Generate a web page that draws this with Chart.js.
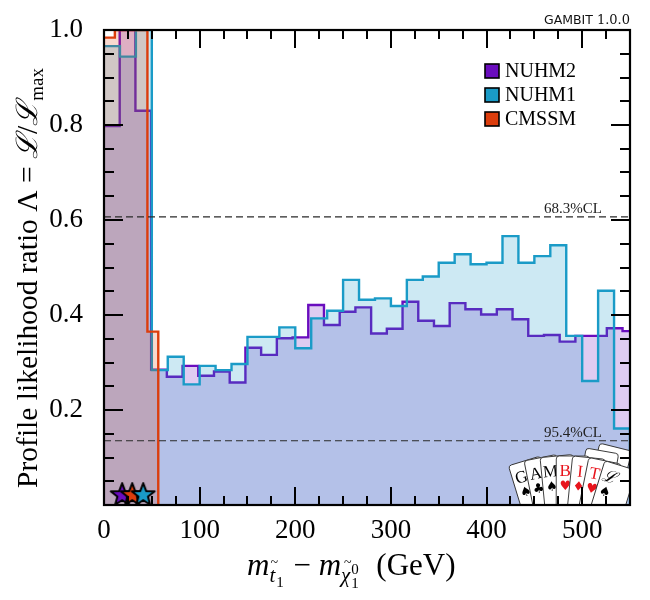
<!DOCTYPE html>
<html>
<head>
<meta charset="utf-8">
<title>GAMBIT stop - neutralino mass difference</title>
<script src="https://cdn.jsdelivr.net/npm/chart.js@4.4.0/dist/chart.umd.min.js"></script>
<style>
    html, body { margin: 0; padding: 0; background: #fff; }
    #wrap { width: 650px; height: 600px; }
</style>
</head>
<body>
<div id="wrap"><canvas id="chart" width="650" height="600"></canvas></div>
<script>
/**
 * 1D profile likelihood: m(stop1) - m(neutralino1), three models
 */

// Histogram bins (GeV) and profile likelihood ratio per bin
const NUHM2_BIN_WIDTH = 16.43;
const NUHM2_VALUES = [0.798, 1.0, 0.83, 0.285, 0.27, 0.293, 0.272, 0.281, 0.258, 0.331,
    0.316, 0.351, 0.353, 0.421, 0.379, 0.407, 0.416, 0.361, 0.371, 0.428,
    0.388, 0.377, 0.425, 0.412, 0.401, 0.412, 0.391, 0.356, 0.358, 0.344,
    0.356, 0.356, 0.372, 0.366];

const NUHM1_BIN_WIDTH = 550 / 33;
const NUHM1_VALUES = [0.966, 0.944, 1.0, 0.284, 0.312, 0.254, 0.293, 0.284, 0.297, 0.354,
    0.354, 0.374, 0.33, 0.393, 0.409, 0.474, 0.432, 0.435, 0.419, 0.474,
    0.481, 0.51, 0.528, 0.507, 0.51, 0.566, 0.51, 0.524, 0.547, 0.356,
    0.261, 0.451, 0.161];

const CMSSM_BIN_WIDTH = 11.35;
const CMSSM_VALUES = [0.984, 1.0, 1.0, 1.0, 0.365];

// Best fit points (stars at the bottom)
const BEST_FIT_MODELS = ['NUHM2', 'CMSSM', 'NUHM1'];
const BEST_FIT_X = [19, 29.5, 41];
const BEST_FIT_Y = [0.023, 0.023, 0.023];

// Confidence level lines
const CL_LEVELS = [0.6065, 0.1353];
const CL_LABELS = ['68.3%CL', '95.4%CL'];

// Axis ticks
const X_TICKS = [0, 100, 200, 300, 400, 500];
const Y_TICKS = [0.2, 0.4, 0.6, 0.8, 1.0];

// Logo cards
const CARD_LETTERS = ['G', 'A', 'M', 'B', 'I', 'T', '\u2112'];
const CARD_SUITS = ['\u2660', '\u2663', '\u2660', '\u2665', '\u2666', '\u2665', '\u2660'];

const X_MAX = 550;
const SERIF = '"Liberation Serif", "DejaVu Serif", serif';

const COLORS = {
    NUHM2: '#6a0dbe',
    NUHM1: '#1a9bc7',
    CMSSM: '#dc3d0c'
};
const FILLS = {
    NUHM2: 'rgba(106, 13, 190, 0.21)',
    NUHM1: 'rgba(26, 155, 199, 0.22)',
    CMSSM: 'rgba(220, 61, 12, 0.2)'
};

/**
 * Turn bin values into points for a stepped line that closes at zero
 */
function stepPoints(values, width) {
    const pts = values.map((v, i) => ({ x: i * width, y: v }));
    const end = values.length * width;
    pts.push({ x: end, y: values[values.length - 1] }, { x: end, y: 0 });
    return pts;
}

/**
 * Filled five point star, used as a point style
 */
function makeStar(color) {
    const c = document.createElement('canvas');
    c.width = 28; c.height = 28;
    const g = c.getContext('2d');
    g.beginPath();
    for (let i = 0; i < 10; i++) {
        const r = i % 2 === 0 ? 12 : 5;
        const a = -Math.PI / 2 + i * Math.PI / 5;
        g.lineTo(14 + r * Math.cos(a), 15 + r * Math.sin(a));
    }
    g.closePath();
    g.fillStyle = color;
    g.fill();
    g.lineWidth = 2;
    g.lineJoin = 'round';
    g.strokeStyle = '#000';
    g.stroke();
    return c;
}

function histDataset(label, values, width, order) {
    return {
        label: label,
        data: stepPoints(values, width),
        stepped: 'before',
        borderColor: COLORS[label],
        backgroundColor: FILLS[label],
        borderWidth: 2.4,
        fill: 'origin',
        pointRadius: 0,
        order: order
    };
}

const datasets = [
    histDataset('NUHM2', NUHM2_VALUES, NUHM2_BIN_WIDTH, 5),
    histDataset('NUHM1', NUHM1_VALUES, NUHM1_BIN_WIDTH, 4),
    histDataset('CMSSM', CMSSM_VALUES, CMSSM_BIN_WIDTH, 3)
];

CL_LEVELS.forEach((lvl, i) => {
    datasets.push({
        label: CL_LABELS[i],
        data: [{ x: 0, y: lvl }, { x: X_MAX, y: lvl }],
        borderColor: '#2a2a2a',
        borderWidth: 1.2,
        borderDash: [7, 4],
        pointRadius: 0,
        fill: false,
        order: 2
    });
});

BEST_FIT_MODELS.forEach((m, i) => {
    datasets.push({
        label: m + ' best fit',
        data: [{ x: BEST_FIT_X[i], y: BEST_FIT_Y[i] }],
        showLine: false,
        pointStyle: makeStar(COLORS[m]),
        pointRadius: 12,
        order: 1 - i
    });
});

/**
 * Draw a piece of text, return the x after it
 */
function piece(ctx, text, x, y, font) {
    ctx.font = font;
    ctx.fillText(text, x, y);
    return x + ctx.measureText(text).width;
}

function drawXTitle(ctx) {
    const it = 'italic 31px ' + SERIF;
    const up = '31px ' + SERIF;
    const subIt = 'italic 21px ' + SERIF;
    const sub = '15px ' + SERIF;
    const y = 575;
    ctx.fillStyle = '#000';
    ctx.textAlign = 'left';
    ctx.textBaseline = 'alphabetic';
    let x = 247;
    x = piece(ctx, 'm', x, y, it);
    const tx = x;
    x = piece(ctx, 't', x, y + 7, subIt);
    ctx.font = '14px ' + SERIF;
    ctx.fillText('~', tx + 1, y - 8);
    x = piece(ctx, '1', x + 1, y + 12, sub);
    x = piece(ctx, ' \u2212 ', x + 2, y, up);
    x = piece(ctx, 'm', x, y, it);
    const cx = x;
    x = piece(ctx, '\u03c7', x, y + 7, subIt);
    ctx.font = '14px ' + SERIF;
    ctx.fillText('~', cx + 3, y - 8);
    piece(ctx, '0', x + 1, y - 1, sub);
    x = piece(ctx, '1', x + 1, y + 13, sub);
    piece(ctx, '  (GeV)', x + 2, y, up);
}

function drawYTitle(ctx) {
    const up = '29.5px ' + SERIF;
    const it = 'italic 29.5px ' + SERIF;
    const sub = '19px ' + SERIF;
    const parts = [
        ['Profile likelihood ratio ', up, 0],
        ['\u039b = ', up, 0],
        ['\u2112', it, 0],
        ['/', up, 0],
        ['\u2112', it, 0],
        ['max', sub, 6]
    ];
    let total = 0;
    parts.forEach(p => { ctx.font = p[1]; total += ctx.measureText(p[0]).width; });
    ctx.save();
    ctx.translate(37, 278);
    ctx.rotate(-Math.PI / 2);
    ctx.fillStyle = '#000';
    ctx.textAlign = 'left';
    ctx.textBaseline = 'alphabetic';
    let x = -total / 2;
    parts.forEach(p => { x = piece(ctx, p[0], x, p[2], p[1]); });
    ctx.restore();
}

function drawCards(ctx, area) {
    ctx.save();
    ctx.beginPath();
    ctx.rect(area.left, area.top, area.width, area.height);
    ctx.clip();
    const px = 565, py = 620, R = 150;
    const card = (ang, r) => {
        ctx.rotate(ang * Math.PI / 180);
        ctx.beginPath();
        ctx.roundRect(-9, -r - 14, 33, 62, 3);
        ctx.fillStyle = '#fff';
        ctx.fill();
        ctx.lineWidth = 0.9;
        ctx.strokeStyle = '#333';
        ctx.stroke();
    };
    // blank cards at the back of the fan
    [[14, R + 16], [10, R + 9]].forEach(c => {
        ctx.save(); ctx.translate(px, py); card(c[0], c[1]); ctx.restore();
    });
    CARD_LETTERS.forEach((ch, i) => {
        const ang = -17 + i * 5.7;
        const red = ch === 'B' || ch === 'I' || ch === 'T';
        ctx.save();
        ctx.translate(px, py);
        card(ang, R);
        ctx.fillStyle = red ? '#e8141c' : '#000';
        ctx.textAlign = 'center';
        ctx.textBaseline = 'alphabetic';
        ctx.font = (ch === '\u2112' ? 'italic ' : '') + '17px ' + SERIF;
        ctx.fillText(ch, 0, -R + 6);
        ctx.font = '13px "DejaVu Sans", sans-serif';
        ctx.fillText(CARD_SUITS[i], 0, -R + 20);
        ctx.restore();
    });
    ctx.restore();
}

function drawTicks(ctx, area, x, y) {
    ctx.save();
    ctx.strokeStyle = '#000';
    ctx.lineWidth = 2;
    ctx.beginPath();
    for (let v = 0; v <= X_MAX; v += 25) {
        const p = Math.round(x.getPixelForValue(v));
        const len = v % 100 === 0 ? 18 : 9;
        ctx.moveTo(p, area.bottom); ctx.lineTo(p, area.bottom - len);
        ctx.moveTo(p, area.top); ctx.lineTo(p, area.top + len);
    }
    for (let i = 1; i < 20; i++) {
        const p = Math.round(y.getPixelForValue(i * 0.05));
        const len = i % 4 === 0 ? 19 : 10;
        ctx.moveTo(area.left, p); ctx.lineTo(area.left + len, p);
        ctx.moveTo(area.right, p); ctx.lineTo(area.right - len, p);
    }
    ctx.stroke();
    ctx.lineWidth = 2.2;
    ctx.strokeRect(area.left, area.top, area.right - area.left, area.bottom - area.top);
    ctx.restore();
}

function drawLegend(ctx) {
    const names = ['NUHM2', 'NUHM1', 'CMSSM'];
    ctx.save();
    names.forEach((n, i) => {
        const cy = 71 + i * 24;
        ctx.fillStyle = COLORS[n];
        ctx.fillRect(485, cy - 7, 14, 14);
        ctx.lineWidth = 1.6;
        ctx.strokeStyle = '#000';
        ctx.strokeRect(485, cy - 7, 14, 14);
        ctx.fillStyle = '#000';
        ctx.font = '20px ' + SERIF;
        ctx.textAlign = 'left';
        ctx.textBaseline = 'middle';
        ctx.fillText(n, 505, cy + 1);
    });
    ctx.restore();
}

const decorations = {
    id: 'decorations',
    afterDatasetsDraw(chart) {
        const { ctx, chartArea: area, scales: { x, y } } = chart;
        drawCards(ctx, area);
        ctx.save();
        // CL labels
        ctx.fillStyle = '#222';
        ctx.font = '15px ' + SERIF;
        ctx.textAlign = 'right';
        ctx.textBaseline = 'alphabetic';
        CL_LEVELS.forEach((lvl, i) => {
            ctx.fillText(CL_LABELS[i], area.right - 28, y.getPixelForValue(lvl) - 4);
        });
        ctx.restore();
        drawTicks(ctx, area, x, y);
        drawLegend(ctx);
        drawXTitle(ctx);
        drawYTitle(ctx);
        // version stamp
        ctx.save();
        ctx.fillStyle = '#111';
        ctx.textAlign = 'right';
        ctx.textBaseline = 'alphabetic';
        ctx.font = '13px "DejaVu Serif", serif';
        const w = ctx.measureText('1.0.0').width;
        ctx.fillText('1.0.0', area.right, 24);
        ctx.font = '12.5px "DejaVu Sans", sans-serif';
        ctx.fillText('GAMBIT', area.right - w - 4, 24);
        ctx.restore();
    }
};

new Chart(document.getElementById('chart'), {
    type: 'line',
    data: { datasets: datasets },
    options: {
        responsive: false,
        animation: false,
        events: [],
        layout: { padding: { top: 30, right: 20, left: 0, bottom: 0 } },
        plugins: {
            legend: { display: false },
            tooltip: { enabled: false }
        },
        scales: {
            x: {
                type: 'linear',
                min: 0,
                max: X_MAX,
                grid: { display: false },
                border: { display: false },
                afterFit: s => { s.height = 95; },
                afterBuildTicks: s => { s.ticks = X_TICKS.map(v => ({ value: v })); },
                ticks: {
                    color: '#000',
                    padding: 2,
                    font: { family: SERIF, size: 27 },
                    maxRotation: 0
                }
            },
            y: {
                type: 'linear',
                min: 0,
                max: 1,
                grid: { display: false },
                border: { display: false },
                afterFit: s => { s.width = 104; },
                afterBuildTicks: s => { s.ticks = Y_TICKS.map(v => ({ value: v })); },
                ticks: {
                    color: '#000',
                    padding: 13,
                    font: { family: SERIF, size: 27 },
                    callback: v => v.toFixed(1)
                }
            }
        }
    },
    plugins: [decorations]
});
</script>
</body>
</html>
